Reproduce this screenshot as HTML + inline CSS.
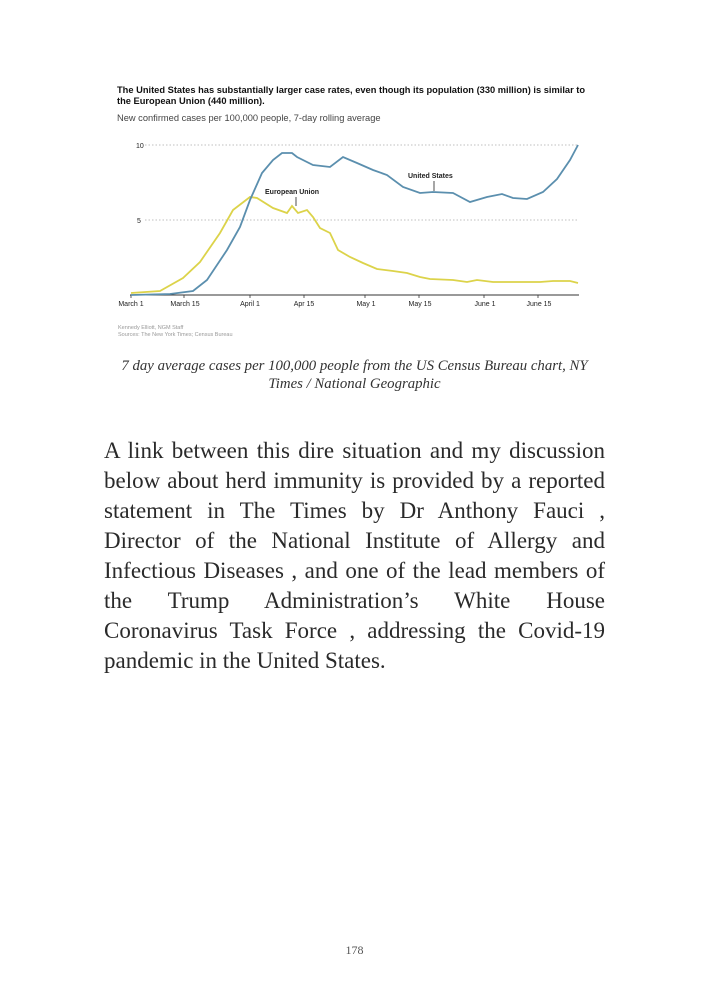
<!DOCTYPE html>
<html><head><meta charset="utf-8"><style>
body{margin:0;background:#fff;}
.p{position:relative;width:709px;height:992px;overflow:hidden;font-family:"Liberation Sans",sans-serif;}
.a{position:absolute;white-space:nowrap;}
.body{position:absolute;left:104px;top:436px;width:501px;font-family:"Liberation Serif",serif;font-size:23px;line-height:30px;color:#2a2a2a;text-align:justify;}
.body span{display:block;text-align:justify;text-align-last:justify;}
.body span.l{text-align-last:left;}
</style></head><body><div class="p">
<div class="a" style="left:117px;top:85px;font-size:9.3px;font-weight:bold;color:#111;line-height:11px;">The United States has substantially larger case rates, even though its population (330 million) is similar to<br>the European Union (440 million).</div>
<div class="a" style="left:117px;top:113px;font-size:9.3px;color:#444;">New confirmed cases per 100,000 people, 7-day rolling average</div>
<svg class="a" style="left:0;top:0" width="709" height="330" viewBox="0 0 709 330">
<g font-family="Liberation Sans, sans-serif" font-size="7" fill="#222">
<line x1="145" y1="145" x2="578" y2="145" stroke="#aaa" stroke-width="0.8" stroke-dasharray="1.5,2"/>
<line x1="145" y1="220" x2="578" y2="220" stroke="#aaa" stroke-width="0.8" stroke-dasharray="1.5,2"/>
<text x="136" y="148">10</text><text x="137" y="223">5</text>
<line x1="130" y1="295" x2="579" y2="295" stroke="#333" stroke-width="1"/>
<g stroke="#333" stroke-width="0.8"><line x1="131" y1="295" x2="131" y2="298"/><line x1="184" y1="295" x2="184" y2="298"/><line x1="250" y1="295" x2="250" y2="298"/><line x1="304" y1="295" x2="304" y2="298"/><line x1="365" y1="295" x2="365" y2="298"/><line x1="419" y1="295" x2="419" y2="298"/><line x1="484" y1="295" x2="484" y2="298"/><line x1="538" y1="295" x2="538" y2="298"/></g>
<g text-anchor="middle"><text x="131" y="306">March 1</text><text x="185" y="306">March 15</text><text x="250" y="306">April 1</text><text x="304" y="306">Apr 15</text><text x="366" y="306">May 1</text><text x="420" y="306">May 15</text><text x="485" y="306">June 1</text><text x="539" y="306">June 15</text></g>
<polyline fill="none" stroke="#dcd34a" stroke-width="1.8" points="131,293 160,291 183,278 200,262 220,233 233,210 250,197 257,198 273,208 287,213 292,206 298,213 307,210 313,217 320,228 330,233 338,250 350,257 363,263 377,269 393,271 407,273 420,277 430,279 453,280 467,282 477,280 493,282 517,282 540,282 553,281 570,281 578,283"/>
<polyline fill="none" stroke="#5b8fae" stroke-width="1.8" points="131,295 170,294 193,291 207,280 227,250 240,227 250,200 262,173 273,160 282,153 292,153 297,157 313,165 330,167 343,157 357,163 373,170 387,175 403,187 420,193 433,192 453,193 470,202 487,197 502,194 513,198 527,199 543,192 557,179 570,160 578,145"/>
<line x1="296" y1="197" x2="296" y2="206" stroke="#222" stroke-width="0.8"/>
<line x1="434" y1="181" x2="434" y2="191" stroke="#222" stroke-width="0.8"/>
<text x="265" y="194" font-weight="bold">European Union</text>
<text x="408" y="178" font-weight="bold">United States</text>
<text x="118" y="329" font-size="5.5" fill="#999">Kennedy Elliott, NGM Staff</text>
</g></svg>
<div class="a" style="left:118px;top:332px;font-size:5.5px;color:#999;">Sources: The New York Times; Census Bureau</div>
<div class="a" style="left:0;width:709px;top:357px;text-align:center;font-family:'Liberation Serif',serif;font-style:italic;font-size:14.8px;line-height:18px;color:#333;">7 day average cases per 100,000 people from the US Census Bureau chart, NY<br>Times / National Geographic</div>
<div class="body">
<span>A link between this dire situation and my discussion</span>
<span>below about herd immunity is provided by a reported</span>
<span>statement in The Times by Dr Anthony Fauci ,</span>
<span>Director of the National Institute of Allergy and</span>
<span>Infectious Diseases , and one of the lead members of</span>
<span>the Trump Administration’s White House</span>
<span>Coronavirus Task Force , addressing the Covid-19</span>
<span class="l">pandemic in the United States.</span>
</div>
<div class="a" style="left:0;width:709px;top:943px;text-align:center;font-family:'Liberation Serif',serif;font-size:12px;color:#555;">178</div>
</div></body></html>
